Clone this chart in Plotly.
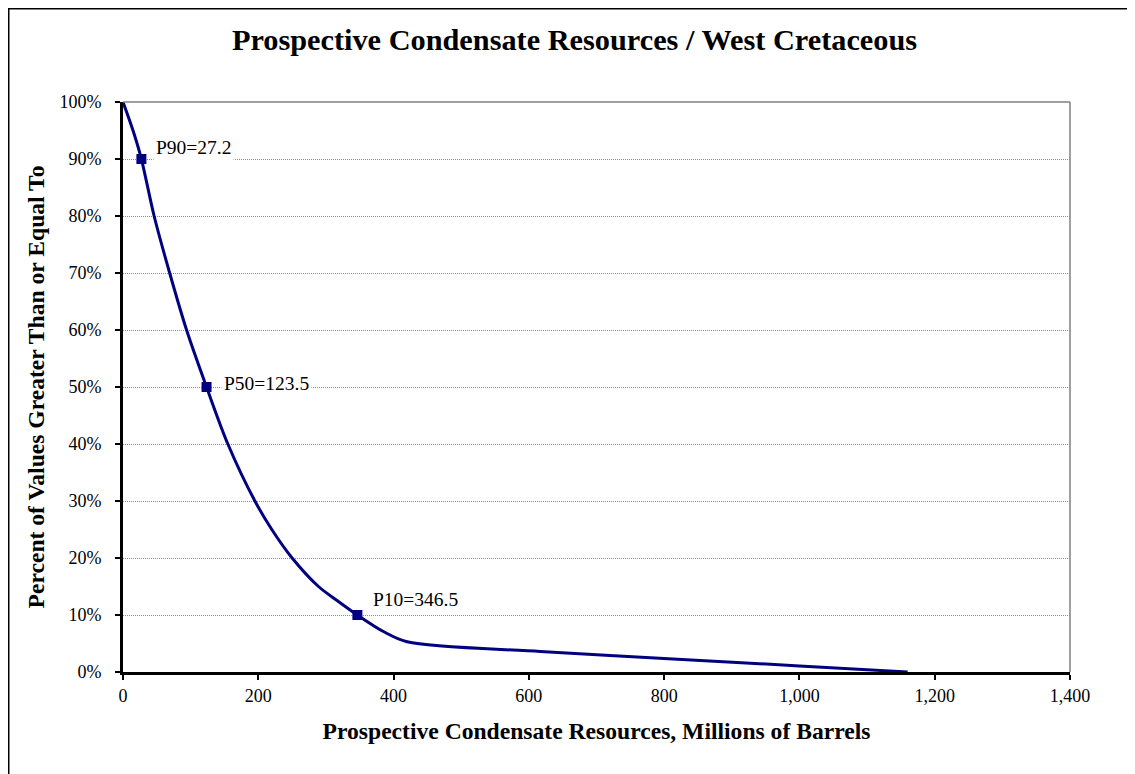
import plotly.graph_objects as go

# Data
resources = [0, 14.8, 27.2, 46, 69, 94, 123.5, 155, 195, 220, 250, 289, 317, 346.5, 385, 420, 617, 813, 1000, 1160]
pct_ge = [1.00, 0.95, 0.90, 0.80, 0.70, 0.60, 0.50, 0.40, 0.30, 0.25, 0.20, 0.15, 0.125, 0.10, 0.071, 0.053, 0.036, 0.023, 0.0106, 0.0]

p_labels = ["P90=27.2", "P50=123.5", "P10=346.5"]
p_values = [27.2, 123.5, 346.5]
p_pcts = [0.90, 0.50, 0.10]
label_shifts = [(12, 12), (14, 4), (13, 16)]

x_ticks = [0, 200, 400, 600, 800, 1000, 1200, 1400]
y_ticks = [0, 0.1, 0.2, 0.3, 0.4, 0.5, 0.6, 0.7, 0.8, 0.9, 1.0]

NAVY = "#000080"
FONT = "Liberation Serif, Times New Roman, serif"

fig = go.Figure()
fig.add_trace(go.Scatter(
    x=resources, y=pct_ge, mode="lines",
    line=dict(color=NAVY, width=3, shape="spline", smoothing=0.9),
    hoverinfo="skip", showlegend=False))
fig.add_trace(go.Scatter(
    x=p_values, y=p_pcts, mode="markers",
    marker=dict(symbol="square", size=10, color=NAVY),
    showlegend=False))

for lab, xv, yv, (dx, dy) in zip(p_labels, p_values, p_pcts, label_shifts):
    fig.add_annotation(x=xv, y=yv, xref="x", yref="y", text=lab, showarrow=False,
                       xanchor="left", yanchor="middle", xshift=dx, yshift=dy,
                       bgcolor="white", borderpad=2,
                       font=dict(family=FONT, size=19.5, color="black"))

W, H = 1127, 766
L, R, T, B = 115, 65, 94, 102
pw, ph = W - L - R, H - T - B

# outer chart border
fig.add_shape(type="rect", xref="paper", yref="paper",
              x0=(0.75 - L) / pw, x1=(W + 20 - L) / pw,
              y0=-(H + 20 - (H - B)) / ph, y1=1 + (T - 0.75) / ph,
              line=dict(color="black", width=1.5), fillcolor="rgba(0,0,0,0)", layer="below")
# plot area top & right border (gray)
fig.add_shape(type="line", xref="paper", yref="paper", x0=0, x1=1, y0=1, y1=1,
              line=dict(color="#808080", width=1.5))
fig.add_shape(type="line", xref="paper", yref="paper", x0=1, x1=1, y0=0, y1=1,
              line=dict(color="#808080", width=1.5))

fig.update_layout(
    width=W, height=H,
    margin=dict(l=L, r=R, t=T, b=B, autoexpand=False),
    paper_bgcolor="white", plot_bgcolor="white",
    font=dict(family=FONT, color="black"),
    title=dict(text="<b>Prospective Condensate Resources / West Cretaceous</b>",
               x=566.5 / W, xanchor="center",
               y=1 - 31 / H, yanchor="middle", yref="container",
               font=dict(family=FONT, size=30.3, color="black")),
    xaxis=dict(range=[0, 1400], tickvals=x_ticks, tickformat=",d",
               showgrid=False, zeroline=False,
               showline=True, linecolor="black", linewidth=3,
               ticks="outside", ticklen=5, tickwidth=2, tickcolor="black",
               ticklabelstandoff=0,
               tickfont=dict(family=FONT, size=18, color="black"),
               title=dict(text="<b>Prospective Condensate Resources, Millions of Barrels</b>",
                          font=dict(family=FONT, size=23.6, color="black"), standoff=18)),
    yaxis=dict(range=[0, 1], tickvals=y_ticks, tickformat=".0%",
               showgrid=True, gridcolor="#8c8c8c", gridwidth=1, griddash="1px,1px",
               zeroline=False,
               showline=True, linecolor="black", linewidth=3,
               ticks="outside", ticklen=5, tickwidth=2, tickcolor="black",
               ticklabelstandoff=10,
               tickfont=dict(family=FONT, size=18, color="black"),
               title=dict(text="<b>Percent of Values Greater Than or Equal To</b>",
                          font=dict(family=FONT, size=23.6, color="black"), standoff=9)),
)

fig.write_html("out.html")
